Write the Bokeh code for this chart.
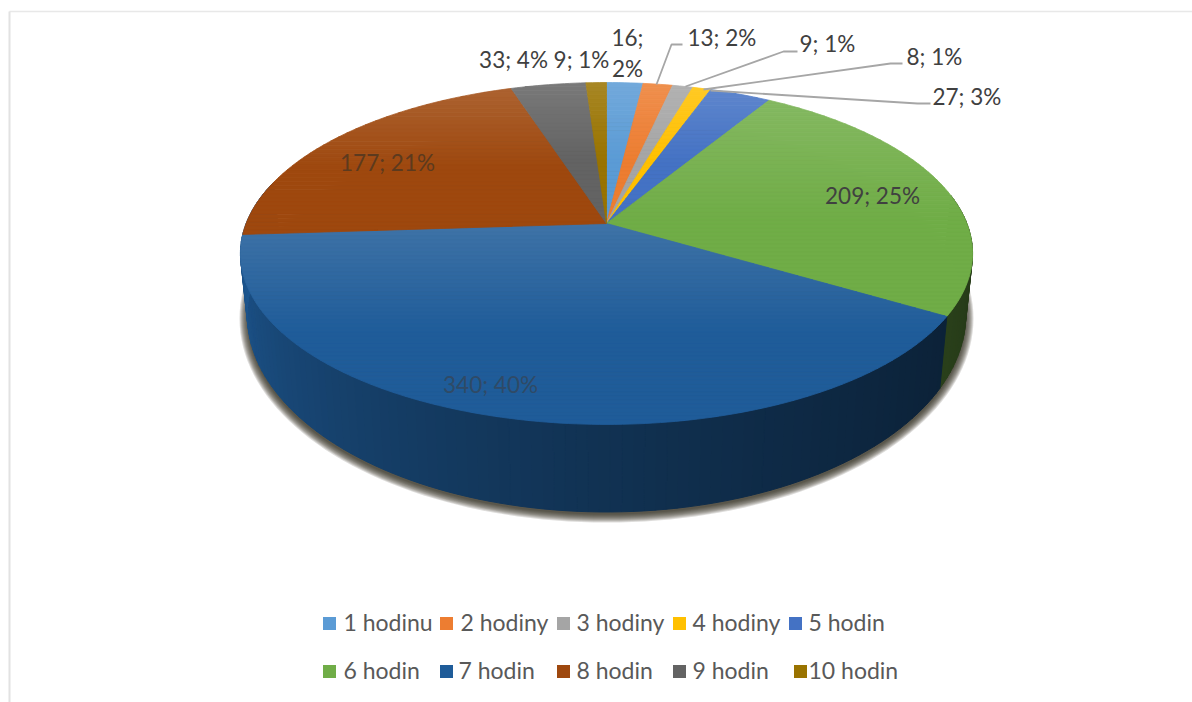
import math
from bokeh.plotting import figure
from bokeh.embed import file_html
from bokeh.resources import INLINE
from bokeh.models import Range1d

categories = ["1 hodinu", "2 hodiny", "3 hodiny", "4 hodiny", "5 hodin",
              "6 hodin", "7 hodin", "8 hodin", "9 hodin", "10 hodin"]
values = [16, 13, 9, 8, 27, 209, 340, 177, 33, 9]
percents = [2, 2, 1, 1, 3, 25, 40, 21, 4, 1]
colors = ["#5b9bd5", "#ed7d31", "#a5a5a5", "#ffc000", "#4472c4",
          "#70ad47", "#1f5c99", "#9e480e", "#636363", "#997300"]

W, H = 1192, 702
p = figure(width=W, height=H, x_range=Range1d(0, W), y_range=Range1d(H, 0),
           output_backend="svg", toolbar_location=None, min_border=0)
p.axis.visible = False
p.grid.visible = False
p.outline_line_color = None
p.background_fill_color = "white"
p.border_fill_color = "white"

# projection of the pie discs (perspective view of a unit circle)
CX = 606.0
TOP = dict(hy=223.0, a=165.7, b=360.4, t=0.1754)
BOT = dict(hy=281.0, a=191.3, b=354.0, t=0.17)


def proj(deg, d):
    th = math.radians(deg)
    u, v = math.sin(th), math.cos(th)
    w = 1 + d["t"] * v
    return CX + d["b"] * u / w, d["hy"] - d["a"] * v / w


def mix(c1, c2, f):
    a = [int(c1[i:i + 2], 16) for i in (1, 3, 5)]
    b = [int(c2[i:i + 2], 16) for i in (1, 3, 5)]
    return "#%02x%02x%02x" % tuple(round(a[i] + (b[i] - a[i]) * f) for i in range(3))


def clip_band(poly, y0, y1):
    def clip(pts, inside, cross):
        out = []
        for i in range(len(pts)):
            a, b = pts[i], pts[(i + 1) % len(pts)]
            ia, ib = inside(a), inside(b)
            if ia:
                out.append(a)
            if ia != ib:
                out.append(cross(a, b))
        return out

    def at(y):
        return lambda a, b: (a[0] + (b[0] - a[0]) * (y - a[1]) / (b[1] - a[1]), y)

    res = clip(poly, lambda q: q[1] >= y0, at(y0))
    if res:
        res = clip(res, lambda q: q[1] <= y1, at(y1))
    return res


# slice angles from the values
total = sum(values)
angles = [0.0]
for val in values:
    angles.append(angles[-1] + 360.0 * val / total)

# ground shadow: stacked translucent discs
for k in range(9):
    grow = 8 - k
    xs, ys = [], []
    for deg in range(0, 360, 2):
        th = math.radians(deg)
        xs.append(CX + (359 + grow) * math.sin(th))
        ys.append(318 + (196 + grow) * math.cos(th))
    p.patch(xs, ys, fill_color="#332c22", fill_alpha=0.16, line_color=None)

# side wall, front half only, in narrow bands getting darker to the right
for i, col in enumerate(colors):
    if angles[i + 1] <= 80.0 or angles[i] >= 260.0:
        continue
    a0 = max(angles[i], 80.0)
    a1 = 285.0 if angles[i + 1] > 260.0 else angles[i + 1]
    n = max(2, int((a1 - a0) / 1.5))
    for j in range(n):
        d0 = a0 + (a1 - a0) * j / n
        d1 = a0 + (a1 - a0) * (j + 1) / n
        pos = min(1.0, max(0.0, ((d0 + d1) / 2 - 90) / 180.0))  # 0 right, 1 left
        shade = 0.33 + 0.63 * pos ** 1.6
        fill = mix("#000000", col, shade)
        pts = [proj(d0, TOP), proj(d1, TOP), proj(d1, BOT), proj(d0, BOT)]
        p.patch([q[0] for q in pts], [q[1] for q in pts], fill_color=fill,
                line_color=fill, line_width=1)

# top face with a light sheen that fades downward inside each slice
for i, col in enumerate(colors):
    n = max(3, int((angles[i + 1] - angles[i]) / 1.0))
    poly = [(CX, TOP["hy"])] + [proj(angles[i] + (angles[i + 1] - angles[i]) * j / n, TOP)
                                for j in range(n + 1)]
    ylo, yhi = min(q[1] for q in poly), max(q[1] for q in poly)
    bands = max(4, int((yhi - ylo) / 4))
    for b in range(bands):
        y0 = ylo + (yhi - ylo) * b / bands
        y1 = ylo + (yhi - ylo) * (b + 1) / bands
        part = clip_band(poly, y0, y1)
        if len(part) < 3:
            continue
        f = (b + 0.5) / bands
        sheen = max(0.0, 0.14 * (1 - f / 0.55))
        fill = mix(col, "#ffffff", sheen)
        p.patch([q[0] for q in part], [q[1] for q in part], fill_color=fill,
                line_color=fill, line_width=0.8)

# frame of the original picture
p.line([9, 1192], [11, 11], line_color="#e8e8e8", line_width=1.5)
p.line([9, 9], [11, 702], line_color="#e2e2e2", line_width=2)

# leader lines
leaders = [
    ([656, 671, 682], [84, 44, 44]),
    ([685, 783, 797], [86, 51, 51]),
    ([703, 890, 902], [89, 63, 63]),
    ([710, 917, 930], [90, 103, 103]),
]
for xs, ys in leaders:
    p.line(xs, ys, line_color="#a6a6a6", line_width=1.8)

LABEL_FONT = "Lato"
FS = "22.5px"


def put(x, y, txt, color="#404040", align="left", size=FS):
    p.text([x], [y], text=[txt], text_font={"value": LABEL_FONT}, text_font_size=size,
           text_color=color, text_align=align, text_baseline="middle")


labels = [f"{v}; {q}%" for v, q in zip(values, percents)]
put(627, 37, f"{values[0]};", align="center")
put(627, 68, f"{percents[0]}%", align="center")
put(687, 37, labels[1])
put(799, 43, labels[2])
put(906, 56, labels[3])
put(932, 96, labels[4])
put(872, 195, labels[5], align="center")
put(490, 384, labels[6], color="#2f4a66", align="center")
put(387, 162, labels[7], color="#5c3a1e", align="center")
put(513, 59, labels[8], align="center")
put(581, 59, labels[9], align="center")

# legend
sq_x = [323, 440, 557, 673, 789, 323, 440, 557, 673, 794]
tx_x = [343, 460, 576, 692, 808, 343, 458, 576, 692, 808]
leg_y = [623] * 5 + [671] * 5
for sx, tx, ly, cat, col in zip(sq_x, tx_x, leg_y, categories, colors):
    p.rect([sx + 6], [ly], width=13, height=13, fill_color=col, line_color=None)
    put(tx, ly - 2, cat, color="#595959", size="23px")

open("out.html", "w").write(file_html(p, INLINE))
